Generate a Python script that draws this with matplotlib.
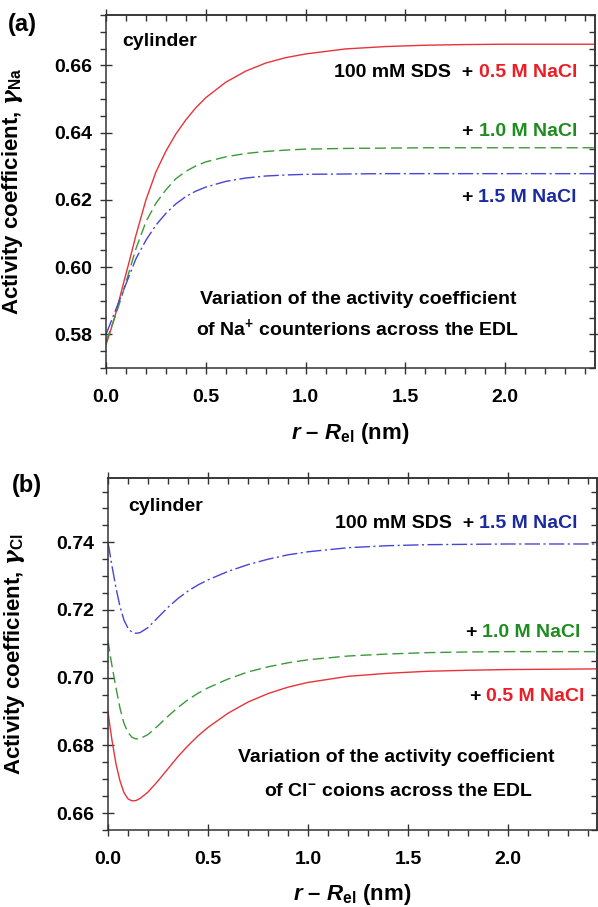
import matplotlib
matplotlib.use('Agg')
from matplotlib import pyplot as plt
from matplotlib.ticker import MultipleLocator, NullFormatter
from matplotlib.offsetbox import TextArea, HPacker, AnchoredOffsetbox

plt.rcParams.update({
    'font.family': ['Liberation Sans', 'DejaVu Sans'],
    'font.weight': 'bold',
    'mathtext.fontset': 'custom',
    'mathtext.rm': 'Liberation Sans:bold',
    'mathtext.it': 'Liberation Sans:italic:bold',
    'mathtext.bf': 'Liberation Sans:bold',
    'mathtext.sf': 'DejaVu Serif:italic',
    'axes.linewidth': 1.1,
    'axes.edgecolor': '#333333',
})

# panel (a): Na+ counterions
x_a = [0, 0.02, 0.05, 0.08, 0.1, 0.12, 0.15, 0.2, 0.25, 0.3, 0.35, 0.4, 0.45,
       0.5, 0.6, 0.7, 0.8, 0.9, 1.0, 1.2, 1.4, 1.6, 1.8, 2.0, 2.45]
na_05 = [0.577, 0.5805, 0.5865, 0.5935, 0.598, 0.6025, 0.6095, 0.6200,
         0.6283, 0.6345, 0.6396, 0.6438, 0.6474, 0.6504, 0.6550, 0.6583,
         0.6607, 0.6623, 0.6634, 0.6649, 0.6656, 0.6660, 0.6662, 0.6663,
         0.6663]
na_10 = [0.578, 0.581, 0.586, 0.5915, 0.5955, 0.5995, 0.6055, 0.6135, 0.619,
         0.623, 0.6263, 0.6285, 0.6301, 0.6313, 0.6328, 0.6338, 0.6344,
         0.6348, 0.6351, 0.6353, 0.6354, 0.6355, 0.6355, 0.6355, 0.6355]
na_15 = [0.580, 0.583, 0.5875, 0.592, 0.595, 0.598, 0.6025, 0.608, 0.6125,
         0.616, 0.6188, 0.621, 0.6226, 0.6238, 0.6255, 0.6265, 0.6271,
         0.6274, 0.6276, 0.6277, 0.6278, 0.6278, 0.6278, 0.6278, 0.6278]

# panel (b): Cl- coions
x_b = [0, 0.01, 0.02, 0.04, 0.06, 0.08, 0.1, 0.12, 0.14, 0.16, 0.2, 0.25,
       0.3, 0.35, 0.4, 0.45, 0.5, 0.6, 0.7, 0.8, 0.9, 1.0, 1.2, 1.4, 1.6,
       1.8, 2.0, 2.45]
cl_05 = [0.690, 0.6855, 0.6815, 0.6745, 0.6695, 0.666, 0.6642, 0.6636,
         0.6637, 0.6643, 0.6662, 0.6695, 0.6731, 0.6767, 0.6799, 0.6828,
         0.6853, 0.6895, 0.6928, 0.6953, 0.6972, 0.6986, 0.7004, 0.7013,
         0.7019, 0.7022, 0.7024, 0.7026]
cl_10 = [0.711, 0.707, 0.7035, 0.697, 0.691, 0.6865, 0.6838, 0.6824, 0.6819,
         0.6820, 0.6832, 0.6858, 0.6886, 0.6912, 0.6935, 0.6954, 0.6970,
         0.6996, 0.7017, 0.7032, 0.7044, 0.7053, 0.7064, 0.7070, 0.7074,
         0.7076, 0.7077, 0.7077]
cl_15 = [0.740, 0.7365, 0.733, 0.7265, 0.721, 0.717, 0.7146, 0.7134, 0.7131,
         0.7133, 0.7148, 0.7178, 0.7208, 0.7234, 0.7256, 0.7274, 0.7289,
         0.7314, 0.7334, 0.7350, 0.7363, 0.7372, 0.7384, 0.7390, 0.7393,
         0.7394, 0.7395, 0.7395]

RED, GREEN, BLUE = '#e8333a', '#3a9a3a', '#4545d8'
RED_T, GREEN_T, BLUE_T = '#ee1c25', '#1e8c1e', '#1c2aa0'
FS = 14
STYLES = {
    'red': dict(color=RED, lw=1.0, ls='-'),
    'green': dict(color=GREEN, lw=1.0, dashes=(8, 3.5)),
    'blue': dict(color=BLUE, lw=1.0, dashes=(11, 2.5, 1.5, 2.5)),
}


def label(ax, parts, x, y):
    boxes = [TextArea(t, textprops=dict(color=c, fontsize=FS, fontweight='bold'))
             for t, c in parts]
    pack = HPacker(children=boxes, align='baseline', pad=0, sep=0)
    box = AnchoredOffsetbox(loc='center right', child=pack, pad=0, borderpad=0,
                            frameon=False, bbox_to_anchor=(x, y),
                            bbox_transform=ax.transAxes)
    ax.add_artist(box)


def style_axes(ax, xlim, ylim):
    ax.set_xlim(*xlim)
    ax.set_ylim(*ylim)
    ax.xaxis.set_major_locator(MultipleLocator(0.5))
    ax.xaxis.set_minor_locator(MultipleLocator(0.1))
    ax.yaxis.set_major_locator(MultipleLocator(0.02))
    ax.yaxis.set_minor_locator(MultipleLocator(0.005))
    ax.xaxis.set_major_formatter(lambda v, p: f'{v:.1f}')
    ax.yaxis.set_major_formatter(lambda v, p: f'{v:.2f}')
    ax.tick_params(which='major', direction='inout', length=8, width=1.0,
                   labelsize=14, pad=6, color='#333333')
    ax.tick_params(axis='x', which='major', pad=11)
    ax.tick_params(which='minor', direction='out', length=4, width=1.0,
                   color='#333333')
    for side, sec in (('top', ax.secondary_xaxis('top')),
                      ('right', ax.secondary_yaxis('right'))):
        axis = sec.xaxis if side == 'top' else sec.yaxis
        axis.set_major_locator(MultipleLocator(0.5 if side == 'top' else 0.02))
        axis.set_minor_locator(MultipleLocator(0.1 if side == 'top' else 0.005))
        axis.set_major_formatter(NullFormatter())
        sec.tick_params(which='major', direction='inout', length=8, width=1.0,
                        color='#333333')
        sec.tick_params(which='minor', direction='in', length=4, width=1.0,
                        color='#333333')
        sec.spines[side].set_linewidth(1.1)
        sec.spines[side].set_color('#333333')


fig = plt.figure(figsize=(5.98, 9.07), dpi=100)
ax1 = fig.add_axes([0.1773, 0.5943, 0.8177, 0.3892])
ax2 = fig.add_axes([0.1806, 0.0849, 0.8177, 0.3881])

ax1.plot(x_a, na_05, **STYLES['red'])
ax1.plot(x_a, na_10, **STYLES['green'])
ax1.plot(x_a, na_15, **STYLES['blue'])
style_axes(ax1, (0, 2.45), (0.57, 0.675))

ax2.plot(x_b, cl_05, **STYLES['red'])
ax2.plot(x_b, cl_10, **STYLES['green'])
ax2.plot(x_b, cl_15, **STYLES['blue'])
style_axes(ax2, (0, 2.445), (0.655, 0.759))

for ax, ion, lab_y in ((ax1, 'Na', -0.15), (ax2, 'Cl', -0.148)):
    ax.set_ylabel(r'Activity coefficient, $\mathsf{\gamma}_{\mathrm{%s}}$' % ion,
                  fontsize=16, fontweight='bold')
    ax.yaxis.set_label_coords(-0.166, 0.5)
    ax.set_xlabel(r'$r$ – $R_{\mathrm{el}}$ (nm)', fontsize=16,
                  fontweight='bold')
    ax.xaxis.set_label_coords(0.5, lab_y)

# panel (a) annotations
ax1.text(0.033, 0.924, 'cylinder', transform=ax1.transAxes, fontsize=FS,
         fontweight='bold', va='center')
label(ax1, [('100 mM SDS', 'black'), ('  + ', 'black'),
            ('0.5 M NaCl', RED_T)], 0.963, 0.838)
label(ax1, [('+ ', 'black'), ('1.0 M NaCl', GREEN_T)], 0.963, 0.669)
label(ax1, [('+ ', 'black'), ('1.5 M NaCl', BLUE_T)], 0.963, 0.484)
ax1.text(0.515, 0.193, 'Variation of the activity coefficient',
         transform=ax1.transAxes, fontsize=FS, fontweight='bold',
         ha='center', va='center')
ax1.text(0.515, 0.113, r'of Na$^{\mathbf{+}}$ counterions across the EDL',
         transform=ax1.transAxes, fontsize=FS, fontweight='bold',
         ha='center', va='center')

# panel (b) annotations
ax2.text(0.041, 0.918, 'cylinder', transform=ax2.transAxes, fontsize=FS,
         fontweight='bold', va='center')
label(ax2, [('100 mM SDS', 'black'), ('  + ', 'black'),
            ('1.5 M NaCl', BLUE_T)], 0.961, 0.872)
label(ax2, [('+ ', 'black'), ('1.0 M NaCl', GREEN_T)], 0.967, 0.56)
label(ax2, [('+ ', 'black'), ('0.5 M NaCl', RED_T)], 0.975, 0.378)
ax2.text(0.589, 0.205, 'Variation of the activity coefficient',
         transform=ax2.transAxes, fontsize=FS, fontweight='bold',
         ha='center', va='center')
ax2.text(0.594, 0.108, r'of Cl$^{-}$ coions across the EDL',
         transform=ax2.transAxes, fontsize=FS, fontweight='bold',
         ha='center', va='center')

fig.text(0.013, 0.9735, '(a)', fontsize=17, fontweight='bold', va='center')
fig.text(0.020, 0.465, '(b)', fontsize=17, fontweight='bold', va='center')

fig.savefig('out.png', dpi=100)
